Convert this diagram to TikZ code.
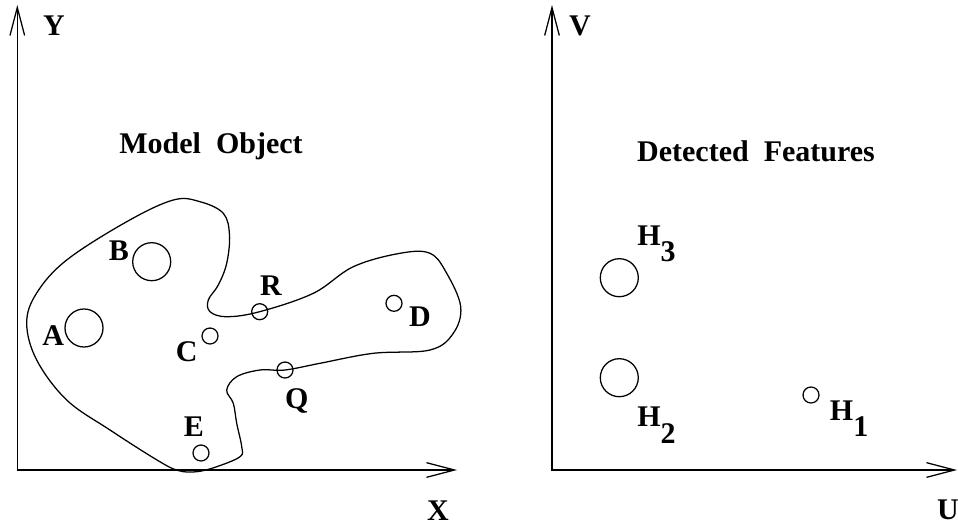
\documentclass[tikz,border=0pt]{standalone}
\usepackage{fontspec}
\setmainfont{Liberation Serif}
\usetikzlibrary{arrows.meta,positioning}

\begin{document}
\begin{tikzpicture}[x=0.75pt,y=-0.75pt,line width=0.95pt,
lab/.style={font=\fontsize{22.5}{26}\selectfont\bfseries,inner sep=0,anchor=base},
big/.style={draw,circle,minimum size=28.5pt,inner sep=0},
small/.style={draw,circle,minimum size=12pt,inner sep=0},
axis/.style={{Straight Barb[length=21pt,width=11pt]}-{Straight Barb[length=21pt,width=11pt]}}]
\useasboundingbox (0,0) rectangle (958,525);
% model frame
\coordinate (oxy) at (17.3,470); \coordinate (ytip) at (17.3,5); \coordinate (xtip) at (457,470);
\draw[axis](ytip)--(oxy)--(xtip);
\node[lab](ylab) at (54,35){Y}; \node[lab](xlab) at (438,520){X};
\node[lab](mtitle) at (211,153){Model~~Object};
\draw plot[smooth cycle,tension=0.6] coordinates {(178,470.5) (157,460) (110,430) (66.7,400) (36.7,360) (26.7,323) (36.7,293) (66.7,260) (126.7,221.7) (173.3,200) (200,201.7) (223.3,213.3) (229.5,235) (226.7,263.3) (218.3,285) (208.3,300) (210,311.7) (226.7,316.7) (259.7,311.7) (313.3,293.3) (353.3,266.7) (400,253.3) (430,253.3) (446.7,273.3) (460.7,306.7) (453.3,333.3) (430,350) (373.3,353.3) (320,363.3) (285,370) (260,370) (236.7,376.7) (226.7,390) (233.3,403.3) (236.7,423.3) (241.7,446.7) (240,456.7) (216.7,466.7) (196.7,471.7)};
\node[big](a) at (84,328){}; \node[big](b) at (151.7,261.7){};
\node[small](c) at (210,336){}; \node[small](r) at (259.7,311.7){};
\node[small](d) at (394,303.3){}; \node[small](q) at (285,370){};
\node[small](e) at (201,453){};
\node[lab](alab) at (53.3,345){A}; \node[lab](blab) at (119,260.7){B};
\node[lab](clab) at (186.7,361.7){C}; \node[lab](rlab) at (271,295){R};
\node[lab](dlab) at (420,326.7){D}; \node[lab](qlab) at (296.7,408.3){Q};
\node[lab](elab) at (194,436.7){E};
% image frame
\coordinate (ouv) at (552,470); \coordinate (vtip) at (552,5); \coordinate (utip) at (957,470);
\draw[axis](vtip)--(ouv)--(utip);
\node[lab](vlab) at (580,35){V}; \node[lab](ulab) at (948,519){U};
\node[lab](ftitle) at (756,161){Detected~~Features};
\node[big](h3) at (619.3,277.7){}; \node[big](h2) at (619.3,377.7){};
\node[small](h1) at (811,395){};
\node[lab,anchor=base west](h3lab) at (636.7,245){H\raisebox{-0.55em}{3}};
\node[lab,anchor=base west](h2lab) at (636.7,426.7){H\raisebox{-0.55em}{2}};
\node[lab,anchor=base west](h1lab) at (829.3,420){H\raisebox{-0.55em}{1}};
\end{tikzpicture}
\end{document}
